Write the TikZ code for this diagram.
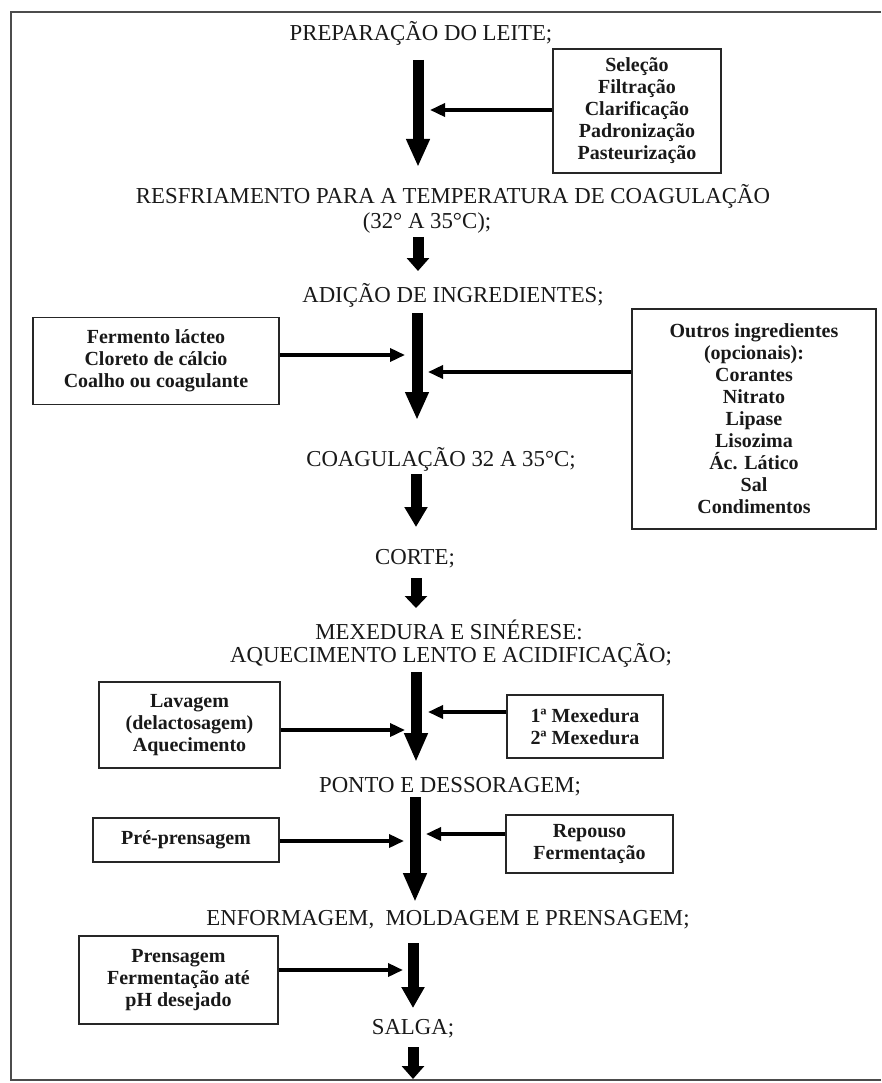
\documentclass[tikz,border=0pt]{standalone}
\usepackage{fontspec}
\setmainfont{Liberation Serif}
\usetikzlibrary{arrows.meta}
\begin{document}
\begin{tikzpicture}[x=1pt,y=-1pt,
  lbl/.style={anchor=base, inner sep=0pt, font=\fontsize{22.8}{21.5}\selectfont, text=black!90},
  sbox/.style={draw=black!85, line width=1.5pt, align=center, inner sep=0pt, text=black!90,
    font=\bfseries\fontsize{20}{22}\selectfont},
  bigarrow/.style={line width=11pt, -{Triangle[width=22pt,length=#1]}},
  sidearrow/.style={line width=3.5pt, -{Triangle[width=13pt,length=15pt]}},
  frameline/.style={line width=2pt, draw=black!70}]
\useasboundingbox (0,0) rectangle (881,1083);
% frame
\draw[frameline] (881,12) -- (11,12) -- (11,1080) -- (881,1080);

% main step labels
\node[lbl] (t1)  at (421,40.5)  {PREPARAÇÃO DO LEITE;};
\node[lbl] (t2a) at (453,203.5) {RESFRIAMENTO PARA A TEMPERATURA DE COAGULAÇÃO};
\node[lbl] (t2b) at (427,228.5) {(32° A 35°C);};
\node[lbl] (t3)  at (453,302.5) {ADIÇÃO DE INGREDIENTES;};
\node[lbl] (t4)  at (441,466)   {COAGULAÇÃO 32 A 35°C;};
\node[lbl] (t5)  at (415,564.5) {CORTE;};
\node[lbl] (t6a) at (449,639)   {MEXEDURA E SINÉRESE:};
\node[lbl] (t6b) at (451,662)   {AQUECIMENTO LENTO E ACIDIFICAÇÃO;};
\node[lbl] (t7)  at (450,792.5) {PONTO E DESSORAGEM;};
\node[lbl] (t8)  at (448,925.5) {ENFORMAGEM,\ \ MOLDAGEM E PRENSAGEM;};
\node[lbl] (t9)  at (413,1034.5) {SALGA;};

% side boxes
\node[sbox, minimum width=168pt, minimum height=124pt] (b1) at (637,111)
  {Seleção\\Filtração\\Clarificação\\Padronização\\Pasteurização};
\node[sbox, minimum width=246pt, minimum height=87pt] (b2) at (156,361)
  {Fermento lácteo\\Cloreto de cálcio\\Coalho ou coagulante};
\node[sbox, minimum width=244pt, minimum height=220pt] (b3) at (754,419)
  {Outros ingredientes\\(opcionais):\\Corantes\\Nitrato\\Lipase\\Lisozima\\Ác. Lático\\Sal\\Condimentos};
\node[sbox, minimum width=181pt, minimum height=86pt] (b4) at (189.5,725)
  {Lavagem\\(delactosagem)\\Aquecimento};
\node[sbox, minimum width=156pt, minimum height=63pt] (b5) at (585,726.5)
  {1ª Mexedura\\2ª Mexedura};
\node[sbox, minimum width=186pt, minimum height=44pt] (b6) at (186,840)
  {Pré-prensagem};
\node[sbox, minimum width=167pt, minimum height=58pt] (b7) at (589.5,844)
  {Repouso\\Fermentação};
\node[sbox, minimum width=199pt, minimum height=88pt] (b8) at (178.5,980)
  {Prensagem\\Fermentação até\\pH desejado};

% main flow arrows
\coordinate (m1a) at (418,60);   \coordinate (m1b) at (418,167);
\coordinate (m2a) at (418,237);  \coordinate (m2b) at (418,271);
\coordinate (m3a) at (417,313);  \coordinate (m3b) at (417,420);
\coordinate (m4a) at (416,474);  \coordinate (m4b) at (416,527);
\coordinate (m5a) at (416,578);  \coordinate (m5b) at (416,608);
\coordinate (m6a) at (416,672);  \coordinate (m6b) at (416,762);
\coordinate (m7a) at (415,797);  \coordinate (m7b) at (415,902);
\coordinate (m8a) at (413,943);  \coordinate (m8b) at (413,1008);
\coordinate (m9a) at (413,1047); \coordinate (m9b) at (413,1079);
\draw[bigarrow=28pt] (m1a) -- (m1b);
\draw[bigarrow=13pt] (m2a) -- (m2b);
\draw[bigarrow=28pt] (m3a) -- (m3b);
\draw[bigarrow=20pt] (m4a) -- (m4b);
\draw[bigarrow=12pt] (m5a) -- (m5b);
\draw[bigarrow=29pt] (m6a) -- (m6b);
\draw[bigarrow=29pt] (m7a) -- (m7b);
\draw[bigarrow=21pt] (m8a) -- (m8b);
\draw[bigarrow=13pt] (m9a) -- (m9b);

% side arrows
\coordinate (s1) at (430,110);
\coordinate (s2) at (405,355);
\coordinate (s3) at (428,372);
\coordinate (s4) at (405,730);
\coordinate (s5) at (428,712);
\coordinate (s6) at (404,841);
\coordinate (s7) at (426,834);
\coordinate (s8) at (403,970);
\draw[sidearrow] (b1.west |- s1) -- (s1);
\draw[sidearrow] (b2.east |- s2) -- (s2);
\draw[sidearrow] (b3.west |- s3) -- (s3);
\draw[sidearrow] (b4.east |- s4) -- (s4);
\draw[sidearrow] (b5.west |- s5) -- (s5);
\draw[sidearrow] (b6.east |- s6) -- (s6);
\draw[sidearrow] (b7.west |- s7) -- (s7);
\draw[sidearrow] (b8.east |- s8) -- (s8);
\end{tikzpicture}
\end{document}
